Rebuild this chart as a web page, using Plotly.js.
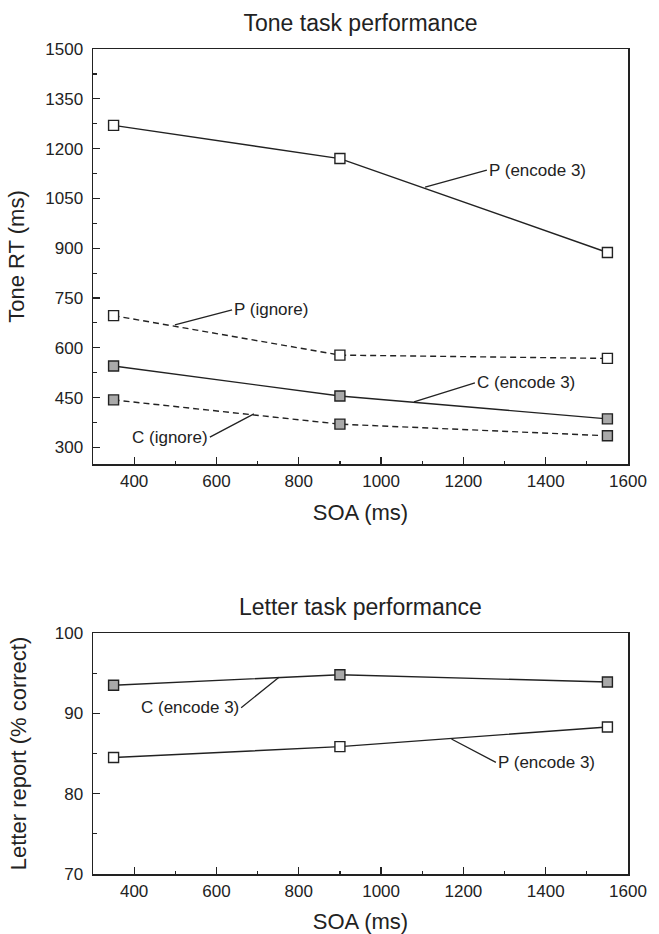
<!DOCTYPE html>
<html>
<head>
<meta charset="utf-8">
<script src="https://cdn.plot.ly/plotly-3.0.1.min.js"></script>
<style>html,body{margin:0;padding:0;background:#fff;}#chart{width:659px;height:934px;}</style>
</head>
<body>
<div id="chart"></div>
<script>
// ---- data ----
const soa = [350, 900, 1550];
const toneP_encode3 = [1270, 1170, 887];
const toneP_ignore = [697, 578, 568];
const toneC_encode3 = [545, 455, 386];
const toneC_ignore = [443, 370, 335];
const letterC_encode3 = [93.5, 94.8, 93.9];
const letterP_encode3 = [84.5, 85.85, 88.3];

const topTitle = "Tone task performance";
const bottomTitle = "Letter task performance";
const xTitle = "SOA (ms)";
const yTopTitle = "Tone RT (ms)";
const yBottomTitle = "Letter report (% correct)";

// ---- styles ----
const ink = "#222";
const grayFill = "#a9a9a9";
const FONT = "Liberation Sans, Arial, Helvetica, sans-serif";

function series(x, y, xa, ya, filled, dashed, name) {
  return {
    x: x, y: y, xaxis: xa, yaxis: ya, name: name,
    type: "scatter", mode: "lines+markers", showlegend: false, hoverinfo: "skip",
    line: {color: ink, width: 1.4, dash: dashed ? "6px,4px" : "solid"},
    marker: {symbol: "square", size: 10, color: filled ? grayFill : "#fff",
             line: {color: ink, width: 1.4}}
  };
}

const data = [
  series(soa, toneP_encode3, "x", "y", false, false, "P (encode 3)"),
  series(soa, toneP_ignore, "x", "y", false, true, "P (ignore)"),
  series(soa, toneC_encode3, "x", "y", true, false, "C (encode 3)"),
  series(soa, toneC_ignore, "x", "y", true, true, "C (ignore)"),
  series(soa, letterC_encode3, "x2", "y2", true, false, "C (encode 3)"),
  series(soa, letterP_encode3, "x2", "y2", false, false, "P (encode 3)")
];

const xDom = [93/659, 628/659];
const topDom = [1 - 464/934, 1 - 49/934];
const botDom = [1 - 874/934, 1 - 633/934];

function xAxis(anchor) {
  return {
    domain: xDom, anchor: anchor, range: [300, 1600],
    tickmode: "linear", tick0: 400, dtick: 200,
    ticks: "inside", ticklen: 7, tickwidth: 1.3, tickcolor: ink,
    minor: {tickmode: "linear", tick0: 300, dtick: 100, ticks: "inside", ticklen: 3, tickwidth: 1.2, tickcolor: ink},
    showline: true, linecolor: ink, linewidth: 1.5, mirror: true,
    showgrid: false, zeroline: false,
    tickfont: {size: 17, color: ink, family: FONT},
    ticklabelstandoff: 1,
    title: {text: xTitle, font: {size: 22, color: ink, family: FONT}, standoff: 14}
  };
}

const layout = {
  width: 659, height: 934,
  margin: {l: 0, r: 0, t: 0, b: 0},
  paper_bgcolor: "#fff", plot_bgcolor: "#fff",
  font: {family: FONT, color: ink},
  title: {text: topTitle, font: {size: 23, color: ink, family: FONT},
          x: 0.5 * (xDom[0] + xDom[1]), xanchor: "center", xref: "paper",
          y: 1 - 23/934, yanchor: "middle", yref: "paper"},
  xaxis: xAxis("y"),
  xaxis2: xAxis("y2"),
  yaxis: {
    domain: topDom, anchor: "x", range: [250, 1500],
    tickmode: "linear", tick0: 300, dtick: 150,
    ticks: "inside", ticklen: 7, tickwidth: 1.3, tickcolor: ink,
    minor: {tickmode: "linear", tick0: 300, dtick: 75, ticks: "inside", ticklen: 4, tickwidth: 1.2, tickcolor: ink},
    showline: true, linecolor: ink, linewidth: 1.5, mirror: true,
    showgrid: false, zeroline: false,
    tickfont: {size: 17, color: ink, family: FONT},
    ticklabelstandoff: 5,
    title: {text: yTopTitle, font: {size: 22, color: ink, family: FONT}, standoff: 14}
  },
  yaxis2: {
    domain: botDom, anchor: "x2", range: [70, 100],
    tickmode: "linear", tick0: 70, dtick: 10,
    ticks: "inside", ticklen: 7, tickwidth: 1.3, tickcolor: ink,
    minor: {tickmode: "linear", tick0: 70, dtick: 5, ticks: "inside", ticklen: 4, tickwidth: 1.2, tickcolor: ink},
    showline: true, linecolor: ink, linewidth: 1.5, mirror: true,
    showgrid: false, zeroline: false,
    tickfont: {size: 17, color: ink, family: FONT},
    ticklabelstandoff: 5,
    title: {text: yBottomTitle, font: {size: 22, color: ink, family: FONT}, standoff: 22}
  },
  annotations: [
    {text: bottomTitle, xref: "paper", yref: "paper", x: 0.5 * (xDom[0] + xDom[1]), y: 1 - 607/934,
     xanchor: "center", yanchor: "middle", showarrow: false, font: {size: 23, color: ink, family: FONT}},
    // top chart labels
    {text: "P (encode 3)", xref: "x", yref: "y", x: 1107, y: 1084, axref: "x", ayref: "y", ax: 1257, ay: 1135,
     xanchor: "left", yanchor: "middle", showarrow: true, arrowhead: 0, arrowwidth: 1.3, arrowcolor: ink, standoff: 0,
     font: {size: 17, color: ink, family: FONT}},
    {text: "P (ignore)", xref: "x", yref: "y", x: 499, y: 669, axref: "x", ayref: "y", ax: 638, ay: 714,
     xanchor: "left", yanchor: "middle", showarrow: true, arrowhead: 0, arrowwidth: 1.3, arrowcolor: ink, standoff: 0,
     font: {size: 17, color: ink, family: FONT}},
    {text: "C (encode 3)", xref: "x", yref: "y", x: 1080, y: 437, axref: "x", ayref: "y", ax: 1228, ay: 494,
     xanchor: "left", yanchor: "middle", showarrow: true, arrowhead: 0, arrowwidth: 1.3, arrowcolor: ink, standoff: 0,
     font: {size: 17, color: ink, family: FONT}},
    {text: "C (ignore)", xref: "x", yref: "y", x: 691, y: 401, axref: "x", ayref: "y", ax: 584, ay: 331,
     xanchor: "right", yanchor: "middle", showarrow: true, arrowhead: 0, arrowwidth: 1.3, arrowcolor: ink, standoff: 0,
     font: {size: 17, color: ink, family: FONT}},
    // bottom chart labels
    {text: "C (encode 3)", xref: "x2", yref: "y2", x: 752, y: 94.5, axref: "x2", ayref: "y2", ax: 660, ay: 90.7,
     xanchor: "right", yanchor: "middle", showarrow: true, arrowhead: 0, arrowwidth: 1.3, arrowcolor: ink, standoff: 0,
     font: {size: 17, color: ink, family: FONT}},
    {text: "P (encode 3)", xref: "x2", yref: "y2", x: 1171, y: 86.8, axref: "x2", ayref: "y2", ax: 1279, ay: 83.9,
     xanchor: "left", yanchor: "middle", showarrow: true, arrowhead: 0, arrowwidth: 1.3, arrowcolor: ink, standoff: 0,
     font: {size: 17, color: ink, family: FONT}}
  ]
};

Plotly.newPlot("chart", data, layout, {displayModeBar: false, staticPlot: true});
</script>
</body>
</html>
